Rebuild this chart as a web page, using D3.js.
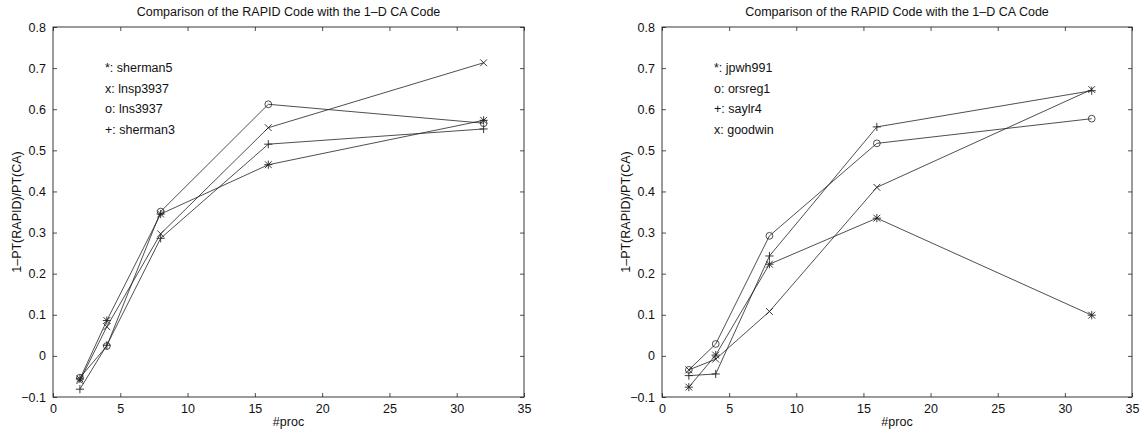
<!DOCTYPE html>
<html>
<head>
<meta charset="utf-8">
<script src="https://cdn.jsdelivr.net/npm/d3@7"></script>
<style>
  body { margin: 0; background: #fff; }
  svg { display: block; font-family: "Liberation Sans", Arial, Helvetica, sans-serif; }
</style>
</head>
<body>
<svg width="1145" height="433"></svg>
<script>
const svg = d3.select('svg')

const procs = [2, 4, 8, 16, 32]
const xTicks = [0, 5, 10, 15, 20, 25, 30, 35]
const yTicks = [-0.1, 0, 0.1, 0.2, 0.3, 0.4, 0.5, 0.6, 0.7, 0.8]
const title = 'Comparison of the RAPID Code with the 1–D CA Code'
const xLabel = '#proc'
const yLabel = '1–PT(RAPID)/PT(CA)'

// left panel
const leftNames = ['sherman5', 'lnsp3937', 'lns3937', 'sherman3']
const leftMarkers = ['*', 'x', 'o', '+']
const sherman5 = [-0.056, 0.086, 0.345, 0.465, 0.573]
const lnsp3937 = [-0.060, 0.071, 0.297, 0.555, 0.713]
const lns3937 = [-0.053, 0.024, 0.351, 0.612, 0.566]
const sherman3 = [-0.081, 0.026, 0.286, 0.515, 0.552]

// right panel
const rightNames = ['jpwh991', 'orsreg1', 'saylr4', 'goodwin']
const rightMarkers = ['*', 'o', '+', 'x']
const jpwh991 = [-0.076, 0.002, 0.223, 0.335, 0.099]
const orsreg1 = [-0.034, 0.029, 0.292, 0.517, 0.577]
const saylr4 = [-0.048, -0.044, 0.243, 0.557, 0.645]
const goodwin = [-0.034, -0.008, 0.108, 0.410, 0.648]

const panels = [
  {left: 53, right: 524, series: [sherman5, lnsp3937, lns3937, sherman3], names: leftNames, markers: leftMarkers},
  {left: 662, right: 1132, series: [jpwh991, orsreg1, saylr4, goodwin], names: rightNames, markers: rightMarkers},
]
const plotTop = 27, plotBottom = 397
const ink = '#222'
const tick = 4
const fmtY = d => d === 0 ? '0' : d3.format('.1f')(d).replace('-', '−')
const fmtX = d => String(d)

function marker(g, type, r){
  const p = d3.path()
  if(type === 'o'){
    g.append('circle').attr('r', r).attr('fill', 'none').attr('stroke', ink).attr('stroke-width', 0.8)
    return
  }
  if(type === 'x' || type === '*'){
    p.moveTo(-r, -r); p.lineTo(r, r); p.moveTo(-r, r); p.lineTo(r, -r)
  }
  if(type === '+' || type === '*'){
    p.moveTo(-r * 1.2, 0); p.lineTo(r * 1.2, 0); p.moveTo(0, -r * 1.2); p.lineTo(0, r * 1.2)
  }
  g.append('path').attr('d', p.toString()).attr('fill', 'none').attr('stroke', ink).attr('stroke-width', 0.9)
}

panels.forEach(panel => {
  const x = d3.scaleLinear().domain([0, 35]).range([panel.left, panel.right])
  const y = d3.scaleLinear().domain([-0.1, 0.8]).range([plotBottom, plotTop])
  const g = svg.append('g')

  // inward ticks on all four sides
  const axes = [
    [d3.axisBottom(x).tickValues(xTicks).tickFormat(fmtX).tickSizeInner(-tick).tickSizeOuter(0).tickPadding(7), `translate(0,${plotBottom})`],
    [d3.axisTop(x).tickValues(xTicks).tickFormat('').tickSizeInner(-tick).tickSizeOuter(0), `translate(0,${plotTop})`],
    [d3.axisLeft(y).tickValues(yTicks).tickFormat(fmtY).tickSizeInner(-tick).tickSizeOuter(0).tickPadding(7), `translate(${panel.left},0)`],
    [d3.axisRight(y).tickValues(yTicks).tickFormat('').tickSizeInner(-tick).tickSizeOuter(0), `translate(${panel.right},0)`],
  ]
  axes.forEach(([axis, tr]) => {
    const a = g.append('g').attr('transform', tr).call(axis)
    a.select('.domain').remove()
    a.selectAll('line').attr('stroke', ink).attr('stroke-width', 0.8)
    a.attr('font-family', null)
    a.selectAll('text').attr('fill', '#111').attr('font-size', 12.5)
  })
  g.append('rect')
    .attr('x', panel.left).attr('y', plotTop)
    .attr('width', panel.right - panel.left).attr('height', plotBottom - plotTop)
    .attr('fill', 'none').attr('stroke', ink).attr('stroke-width', 0.9)

  const line = d3.line().x((d, i) => x(procs[i])).y(d => y(d))
  panel.series.forEach((vals, k) => {
    g.append('path').attr('d', line(vals))
      .attr('fill', 'none').attr('stroke', ink).attr('stroke-width', 0.8)
    vals.forEach((v, i) => {
      marker(g.append('g').attr('transform', `translate(${x(procs[i])},${y(v)})`), panel.markers[k], 3.4)
    })
  })

  // legend text
  panel.names.forEach((n, k) => {
    g.append('text')
      .attr('x', panel.left + 52).attr('y', 72 + k * 20.6)
      .attr('font-size', 12.5).attr('fill', '#111')
      .text(`${panel.markers[k]}: ${n}`)
  })

  const cx = (panel.left + panel.right) / 2
  g.append('text').attr('x', cx).attr('y', 16).attr('text-anchor', 'middle')
    .attr('font-size', 12.5).attr('fill', '#111').text(title)
  g.append('text').attr('x', cx).attr('y', 426).attr('text-anchor', 'middle')
    .attr('font-size', 12.5).attr('fill', '#111').text(xLabel)
  g.append('text').attr('transform', `translate(${panel.left - 32},${(plotTop + plotBottom) / 2}) rotate(-90)`)
    .attr('text-anchor', 'middle').attr('font-size', 12.5).attr('fill', '#111').text(yLabel)
})
</script>
</body>
</html>
